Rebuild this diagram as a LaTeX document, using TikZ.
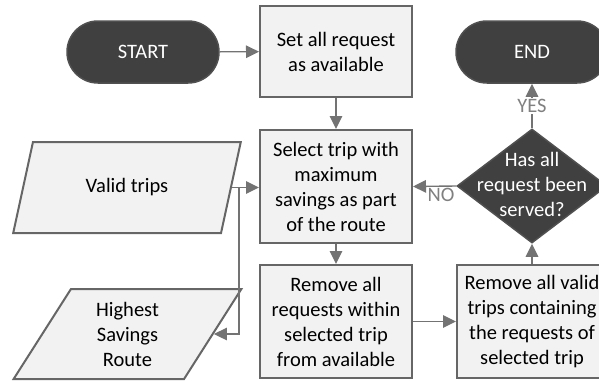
\documentclass[tikz,border=0pt]{standalone}
\usepackage{fontspec}
\setmainfont{Carlito}
\usetikzlibrary{shapes.geometric,arrows.meta}
\definecolor{boxfill}{HTML}{F2F2F2}
\definecolor{boxline}{HTML}{666666}
\definecolor{darkfill}{HTML}{404040}
\definecolor{darkline}{HTML}{505050}
\definecolor{connline}{HTML}{737373}
\definecolor{lbltext}{HTML}{808080}
\newcommand\boxfont{\fontsize{20.5}{25}\selectfont}
\tikzset{
  proc/.style={draw=boxline, fill=boxfill, line width=2pt, minimum width=152pt,
    align=center, font=\boxfont, inner sep=0pt},
  term/.style={draw=darkline, fill=darkfill, line width=1.5pt, rounded corners=31pt,
    minimum width=152pt, minimum height=62pt, text=white, font=\boxfont},
  iobox/.style={trapezium, trapezium left angle=63.7, trapezium right angle=116.3,
    trapezium stretches=true, draw=boxline, fill=boxfill, line width=2pt,
    minimum width=228pt, align=center, font=\boxfont, inner sep=0pt},
  decbox/.style={diamond, draw=darkline, fill=darkfill, line width=1.5pt,
    minimum width=150pt, minimum height=114pt, inner sep=0pt, text=white, font=\boxfont},
  conn/.style={draw=connline, line width=1.4pt, -{Triangle[length=13pt,width=12.5pt]}},
  lbl/.style={fill=white, text=lbltext, font=\boxfont, inner sep=1pt}
}
\begin{document}
\begin{tikzpicture}[x=1pt,y=-1pt]
\useasboundingbox (0,0) rectangle (599,380);
% terminals
\node[term] (start) at (143,52) {START};
\node[term] (end) at (532,52) {END};
% process boxes
\node[proc, minimum height=91pt] (set) at (336,51.5) {Set all request\\as available};
\node[proc, minimum height=113pt] (select) at (336,186.5) {Select trip with\\maximum\\savings as part\\of the route};
\node[proc, minimum height=113pt] (remreq) at (336,321.5) {Remove all\\requests within\\selected trip\\from available};
\node[proc, minimum height=113pt, minimum width=150pt] (remvalid) at (532,321.5) {Remove all valid\\trips containing\\the requests of\\selected trip};
% decision
\node[decbox] (dec) at (532,186) {\raisebox{-11pt}{\makebox[0pt]{\smash{\begin{tabular}{@{}c@{}}Has all\\request been\\served?\end{tabular}}}}};
% data
\node[iobox, minimum height=91pt] (valid) at (127,187.5) {Valid trips};
\node[iobox, minimum height=90pt] (high) at (127.5,334) {Highest\\Savings\\Route};
% connectors
\draw[conn] (start) -- (set);
\draw[conn] (set) -- (select);
\draw[conn] (select) -- (remreq);
\draw[conn] (remreq.east) -- (remvalid.west);
\draw[conn] (remvalid) -- (dec);
\draw[conn] (dec) -- (end);
\draw[conn] (dec.west) -- (select.east);
\draw[conn] (valid.east) -- (select.west |- valid.east);
\coordinate (br) at (239,187.5);
\draw[conn] (br) |- (high.east);
% labels
\node[lbl] (yes) at (532,106) {YES};
\node[lbl] (no) at (441,195) {NO};
\end{tikzpicture}
\end{document}
